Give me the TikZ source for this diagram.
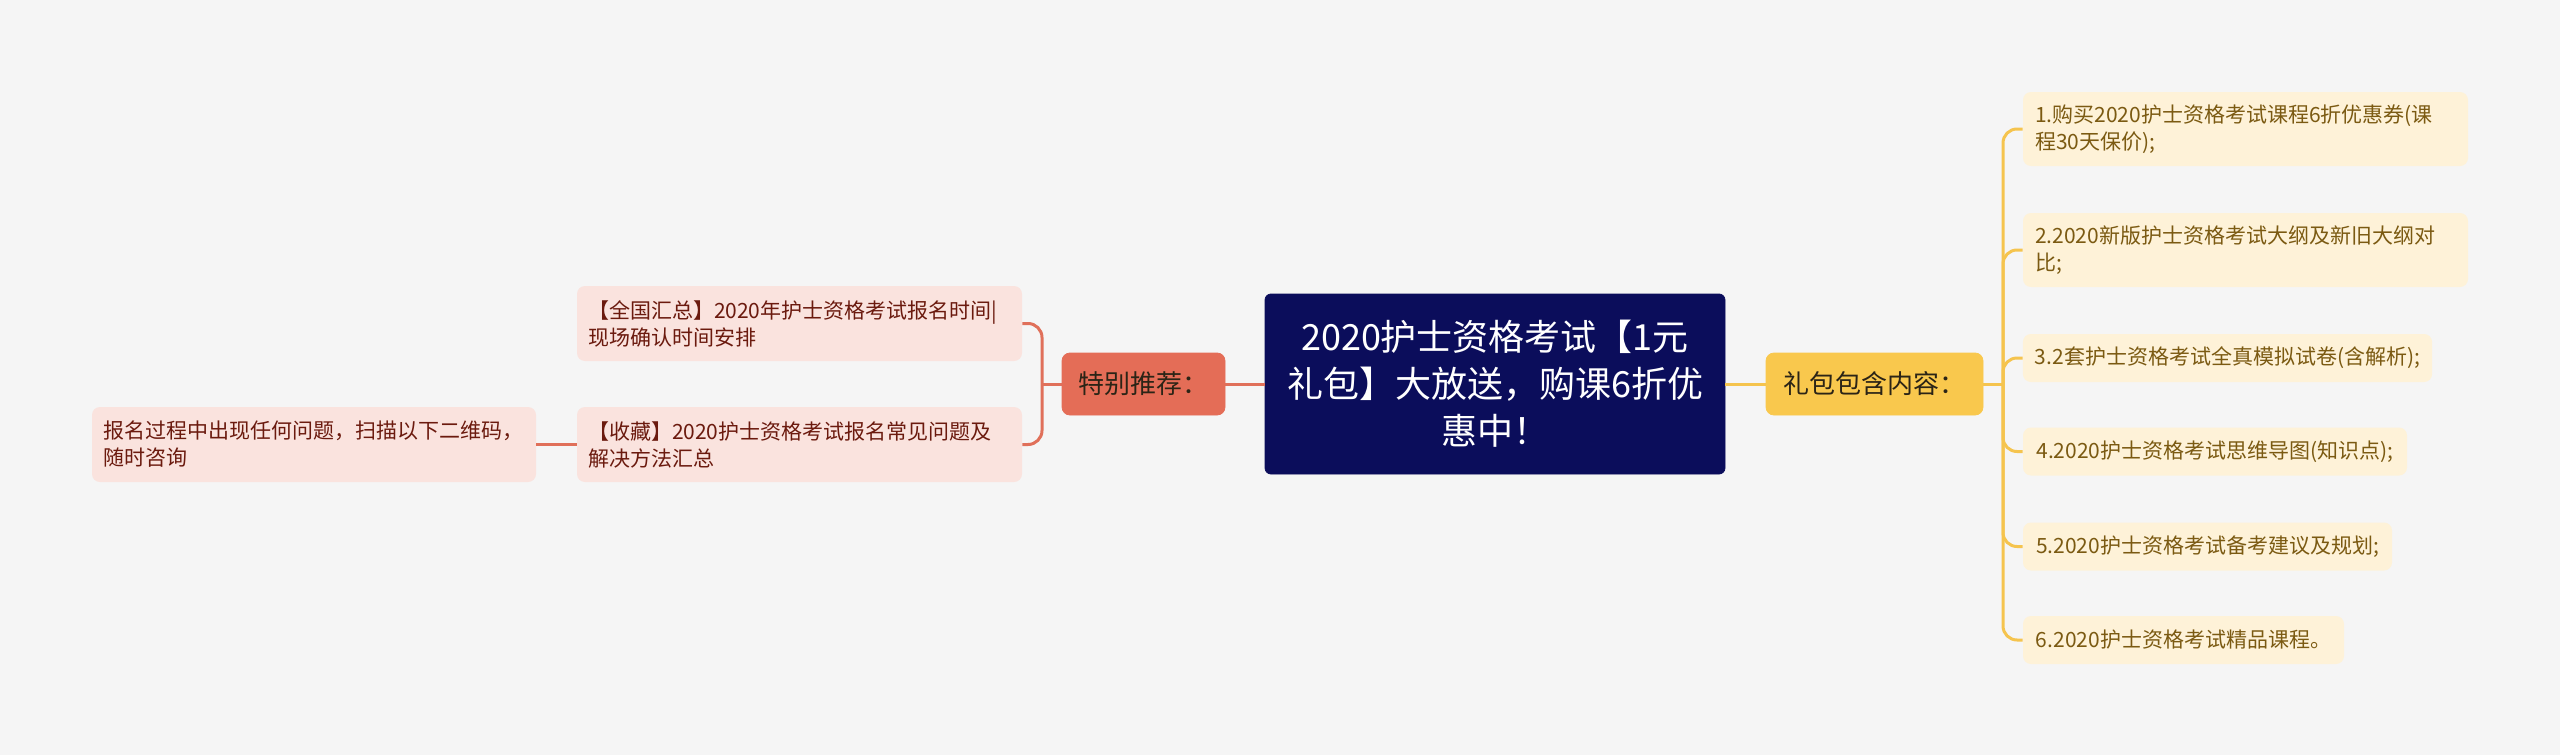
\documentclass[tikz,border=0pt]{standalone}
\usepackage{fontspec}
\setmainfont{Noto Sans CJK SC}
\definecolor{bgc}{HTML}{F5F5F5}
\definecolor{rootc}{HTML}{0B0D5B}
\definecolor{specc}{HTML}{E46D57}
\definecolor{slinec}{HTML}{E0705A}
\definecolor{lfill}{HTML}{FAE3DE}
\definecolor{ltext}{HTML}{6B1A0E}
\definecolor{giftc}{HTML}{F9C84D}
\definecolor{ylinec}{HTML}{F5C44E}
\definecolor{rfill}{HTML}{FEF2D8}
\definecolor{rtext}{HTML}{7B5A12}
\definecolor{darktext}{HTML}{2B2416}
\tikzset{
  base/.style={rounded corners=4pt, inner sep=0pt, align=left},
  rootbox/.style={base, fill=rootc, draw=rootc, text=white, rounded corners=3pt,
    minimum width=230pt, minimum height=90pt, align=center,
    font=\fontsize{18}{23.5}\selectfont},
  specbox/.style={base, fill=specc, draw=specc, text=darktext,
    minimum width=81.5pt, minimum height=31pt, font=\fontsize{13}{16}\selectfont},
  giftbox/.style={base, fill=giftc, draw=giftc, text=darktext,
    minimum width=108.5pt, minimum height=31pt, font=\fontsize{13}{16}\selectfont},
  lbox/.style={base, fill=lfill, text=ltext, minimum height=37.5pt, inner xsep=5.5pt,
    font=\fontsize{10.5}{13.5}\selectfont},
  rbox/.style={base, fill=rfill, text=rtext, inner xsep=6pt,
    font=\fontsize{10.5}{13.5}\selectfont},
  sline/.style={draw=slinec, line width=1.5pt},
  yline/.style={draw=ylinec, line width=1.5pt}
}
\begin{document}
\begin{tikzpicture}[x=0.5pt, y=-0.5pt]
\useasboundingbox (0,0) rectangle (2560,755);
\fill[bgc] (0,0) rectangle (2560,755);

\node[rootbox] (root) at (1495,384) {2020护士资格考试【1元\\礼包】大放送，购课6折优\\惠中！};
\node[specbox] (spec) at (1143.5,384) {特别推荐：};
\node[giftbox] (gift) at (1874.5,384) {礼包包含内容：};

\node[lbox, text width=211.5pt] (l1) at (799.5,323.5) {【全国汇总】2020年护士资格考试报名时间|\\现场确认时间安排};
\node[lbox, text width=211.5pt] (l2) at (799.5,444.5) {【收藏】2020护士资格考试报名常见问题及\\解决方法汇总};
\node[lbox, text width=211pt] (fl) at (314,444.5) {报名过程中出现任何问题，扫描以下二维码，\\随时咨询};

\node[rbox, text width=210.5pt, minimum height=37pt] (r1) at (2245.5,129) {1.购买2020护士资格考试课程6折优惠券(课\\程30天保价);};
\node[rbox, text width=210.5pt, minimum height=37pt] (r2) at (2245.5,250) {2.2020新版护士资格考试大纲及新旧大纲对\\比;};
\node[rbox, minimum width=204.5pt, minimum height=24pt] (r3) at (2227.5,358) {3.2套护士资格考试全真模拟试卷(含解析);};
\node[rbox, minimum width=192pt, minimum height=24pt] (r4) at (2215,451.5) {4.2020护士资格考试思维导图(知识点);};
\node[rbox, minimum width=184.5pt, minimum height=24pt] (r5) at (2207.5,546.5) {5.2020护士资格考试备考建议及规划;};
\node[rbox, minimum width=160.5pt, minimum height=24pt] (r6) at (2183.5,640) {6.2020护士资格考试精品课程。};

\coordinate (lj) at (1042,384);
\coordinate (rj) at (2003,384);

\draw[sline] (root.west) -- (spec.east);
\draw[sline] (spec.west) -- (lj);
\draw[sline, rounded corners=7pt] (l1.east) -| (lj) |- (l2.east);
\draw[sline] (l2.west) -- (fl.east);

\draw[yline] (root.east) -- (gift.west);
\draw[yline] (gift.east) -- (rj);
\foreach \n in {r1,r2,r3,r4,r5,r6}
  \draw[yline, rounded corners=7pt] (rj) |- (\n.west);
\end{tikzpicture}
\end{document}
